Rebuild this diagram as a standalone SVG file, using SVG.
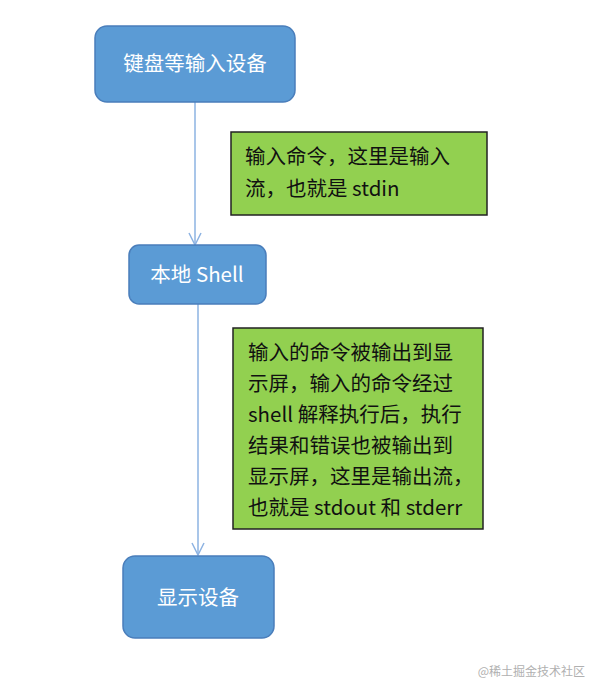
<svg xmlns="http://www.w3.org/2000/svg" width="590" height="684" viewBox="0 0 590 684">
<style>
.node rect{fill:#5B9BD5;stroke:#4A7EBB;stroke-width:1.5}
.node text{fill:#fff;font-family:"Noto Sans CJK SC",sans-serif;font-size:20.5px;text-anchor:middle}
.note rect{fill:#92D050;stroke:#222;stroke-width:1.5}
.note text{fill:#111;font-family:"Noto Sans CJK SC",sans-serif;font-size:20.5px}
.conn{stroke:#8DB3E2;stroke-width:1.5;fill:none}
.wm{fill:#b0b0b0;font-family:"Noto Sans CJK SC",sans-serif;font-size:12px;text-anchor:end}
</style>
<defs>
<marker id="arr" viewBox="0 0 14 14" refX="13" refY="7" markerWidth="14" markerHeight="14" markerUnits="userSpaceOnUse" orient="auto">
<polyline points="1,1 13,7 1,13" fill="none" stroke="#8DB3E2" stroke-width="1.5"/>
</marker>
</defs>
<rect width="590" height="684" fill="#fff"/>
<g id="connectors">
<line class="conn" x1="195" y1="102" x2="195" y2="245" marker-end="url(#arr)"/>
<line class="conn" x1="198" y1="304" x2="198" y2="555" marker-end="url(#arr)"/>
</g>
<g id="node-input" class="node">
<rect x="95" y="26" width="200" height="76" rx="12"/>
<text x="195" y="71">键盘等输入设备</text>
</g>
<g id="node-shell" class="node">
<rect x="129" y="245" width="137" height="59" rx="10"/>
<text x="197" y="282">本地 Shell</text>
</g>
<g id="node-display" class="node">
<rect x="123" y="556" width="151" height="82" rx="12"/>
<text x="198" y="605">显示设备</text>
</g>
<g id="note-stdin" class="note">
<rect x="231" y="132" width="256" height="83"/>
<text x="245" y="164">输入命令，这里是输入</text>
<text x="245" y="196">流，也就是 stdin</text>
</g>
<g id="note-stdout" class="note">
<rect x="233" y="328" width="250" height="201"/>
<text x="248" y="360">输入的命令被输出到显</text>
<text x="248" y="391">示屏，输入的命令经过</text>
<text x="248" y="422">shell 解释执行后，执行</text>
<text x="248" y="453">结果和错误也被输出到</text>
<text x="248" y="484">显示屏，这里是输出流，</text>
<text x="248" y="515">也就是 stdout 和 stderr</text>
</g>
<text class="wm" x="585" y="676">@稀土掘金技术社区</text>
</svg>
